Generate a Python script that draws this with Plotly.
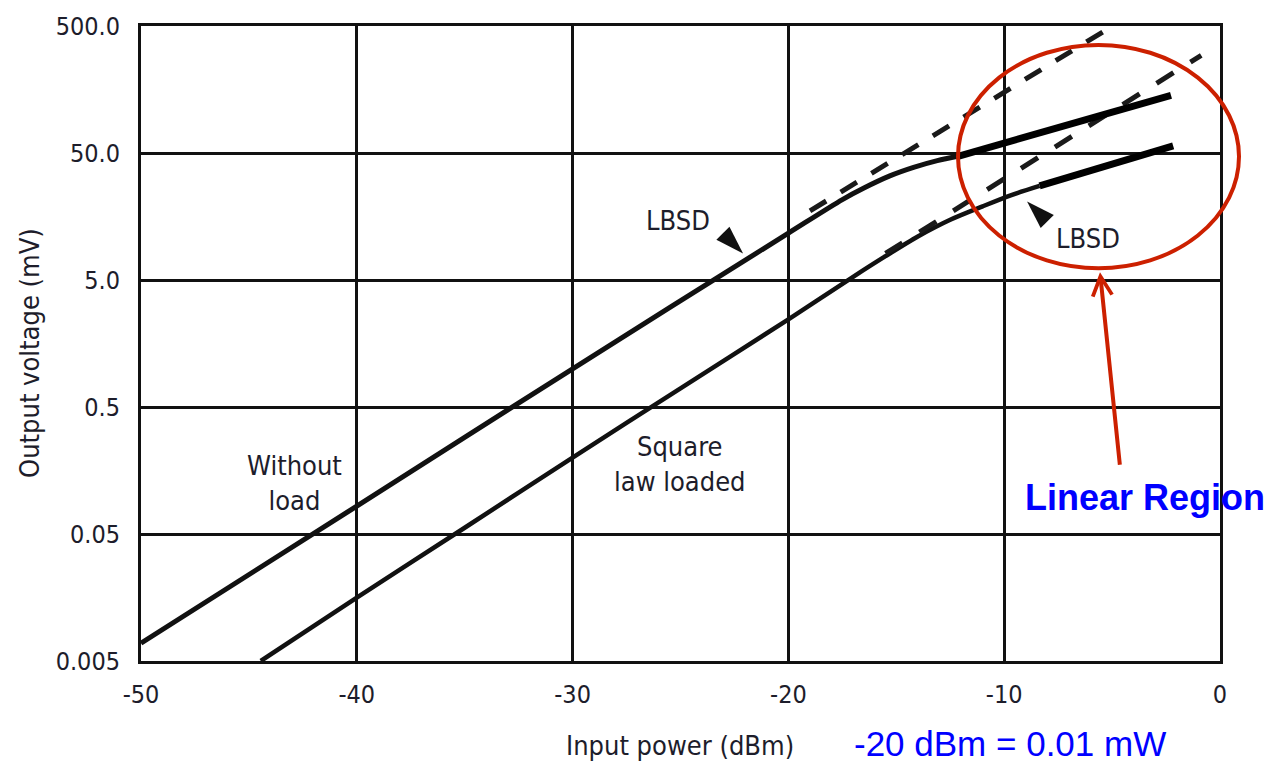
import numpy as np
import plotly.graph_objects as go

# ---------------- data ----------------
x_ticks = [-50, -40, -30, -20, -10, 0]
x_tick_labels = ["-50", "-40", "-30", "-20", "-10", "0"]
y_ticks = [0.005, 0.05, 0.5, 5, 50, 500]
y_tick_labels = ["0.005", "0.05", "0.5", "5.0", "50.0", "500.0"]

# upper curve: "Without load" / LBSD
upper_x = [-50, -40, -30, -20, -17.5, -16.5, -15.3, -14.2, -13.1, -12.1]
upper_y = [0.0069, 0.083, 1.0, 11.7, 21.5, 26.5, 33.0, 38.5, 43.5, 47.3]
# lower curve: "Square law loaded" / LBSD
lower_x = [-44.45, -40, -35, -30, -25, -20, -17.0, -15.5, -14.0, -12.5, -11.0, -9.7, -8.36]
lower_y = [0.005, 0.0158, 0.056, 0.2, 0.70, 2.45, 5.3, 7.7, 11.0, 14.9, 19.0, 23.2, 27.5]

# dashed square-law extensions
upper_dash_x = [-19.0, -4.98]
upper_dash_y = [17.5, 500]
lower_dash_x = [-15.5, -0.87]
lower_dash_y = [8.1, 294]

# thick "linear region" segments
upper_lin_x = [-12.1, -2.27]
upper_lin_y = [47.3, 142]
lower_lin_x = [-8.36, -2.17]
lower_lin_y = [27.5, 56.8]

# LBSD pointer triangles (tip positions and direction)
pointer_x = [-22.1, -8.94]
pointer_y = [8.1, 20.8]
pointer_angle = [135, 315]

# ---------------- geometry helpers ----------------
W, H = 1273, 764
L, R, T, B = 141, 53, 24, 103
PW, PH = W - L - R, H - T - B


def px(xp):
    return (xp - L) / PW


def py(yp):
    return (H - B - yp) / PH


INK = "#1d1d2b"
COND = "DejaVu Sans Condensed, DejaVu Sans, sans-serif"
TICKFONT = dict(family=COND, size=25, color=INK)
LABELFONT = dict(family=COND, size=27, color=INK)
RED = "rgb(204,32,0)"
BLUE = "#0000ff"

fig = go.Figure()

fig.add_trace(go.Scatter(x=upper_x, y=upper_y, mode="lines",
                         line=dict(color="#111111", width=5, shape="spline", smoothing=0.8),
                         showlegend=False, hoverinfo="skip"))
fig.add_trace(go.Scatter(x=lower_x, y=lower_y, mode="lines",
                         line=dict(color="#111111", width=4.5, shape="spline", smoothing=0.8),
                         showlegend=False, hoverinfo="skip"))
fig.add_trace(go.Scatter(x=upper_dash_x, y=upper_dash_y, mode="lines",
                         line=dict(color="#1a1a1a", width=5, dash="19px,17px"),
                         showlegend=False, hoverinfo="skip"))
fig.add_trace(go.Scatter(x=lower_dash_x, y=lower_dash_y, mode="lines",
                         line=dict(color="#1a1a1a", width=5, dash="20px,20px"),
                         showlegend=False, hoverinfo="skip"))
fig.add_trace(go.Scatter(x=upper_lin_x, y=upper_lin_y, mode="lines",
                         line=dict(color="black", width=7),
                         showlegend=False, hoverinfo="skip"))
fig.add_trace(go.Scatter(x=lower_lin_x, y=lower_lin_y, mode="lines",
                         line=dict(color="black", width=7),
                         showlegend=False, hoverinfo="skip"))
fig.add_trace(go.Scatter(x=pointer_x, y=pointer_y, mode="markers",
                         marker=dict(symbol="arrow", size=30, color="#111111",
                                     angle=pointer_angle, line=dict(width=0)),
                         showlegend=False, hoverinfo="skip", cliponaxis=False))

axis_common = dict(showgrid=True, gridcolor="#111111", gridwidth=2.5,
                   showline=True, mirror=True, linecolor="#111111", linewidth=3,
                   ticks="outside", tickcolor="rgba(0,0,0,0)", zeroline=False,
                   tickfont=TICKFONT, fixedrange=True)

fig.update_xaxes(range=[-50, 0], tickvals=x_ticks, ticktext=x_tick_labels, ticklen=9, **axis_common)
fig.update_yaxes(type="log", range=[np.log10(0.005), np.log10(500)], tickvals=y_ticks,
                 ticktext=y_tick_labels, ticklen=13, **axis_common)


def label(xp, yp, text, font, **kw):
    d = dict(x=px(xp), y=py(yp), text=text, showarrow=False, xref="paper", yref="paper",
             xanchor="center", yanchor="middle", font=font)
    d.update(kw)
    return d


annotations = [
    label(680, 746, "Input power (dBm)", LABELFONT),
    label(30, 352, "Output voltage (mV)", LABELFONT, textangle=-90),
    label(678, 219, "LBSD", LABELFONT),
    label(1088, 237, "LBSD", LABELFONT),
    label(294, 482, "Without<br>load", LABELFONT),
    label(680, 463, "Square<br>law loaded", LABELFONT),
    label(1145, 497, "<b>Linear Region</b>",
          dict(family="Liberation Sans, Arial, sans-serif", size=36, color=BLUE)),
    label(1010, 744, "-20 dBm = 0.01 mW",
          dict(family="Liberation Sans, Arial, sans-serif", size=35, color=BLUE)),
    dict(x=px(1100), y=py(271), text="", showarrow=True, xref="paper", yref="paper",
         ax=20, ay=194, arrowhead=5, arrowwidth=4, arrowsize=0.95, arrowcolor=RED, standoff=0),
]

shapes = [
    dict(type="line", xref="x", yref="paper", x0=-8.2, x1=-4.35, y0=0.8, y1=0.8,
         line=dict(color="white", width=4), layer="between"),
    dict(type="circle", xref="paper", yref="paper", x0=px(958), x1=px(1239), y0=py(267), y1=py(43),
         line=dict(color=RED, width=4), layer="above"),
]

fig.update_layout(width=W, height=H, margin=dict(l=L, r=R, t=T, b=B, pad=0),
                  plot_bgcolor="white", paper_bgcolor="white",
                  annotations=annotations, shapes=shapes, showlegend=False)

fig.write_html("out.html", config={"displayModeBar": False},
               post_script="document.body.style.margin='0px';document.body.style.overflow='hidden';")
